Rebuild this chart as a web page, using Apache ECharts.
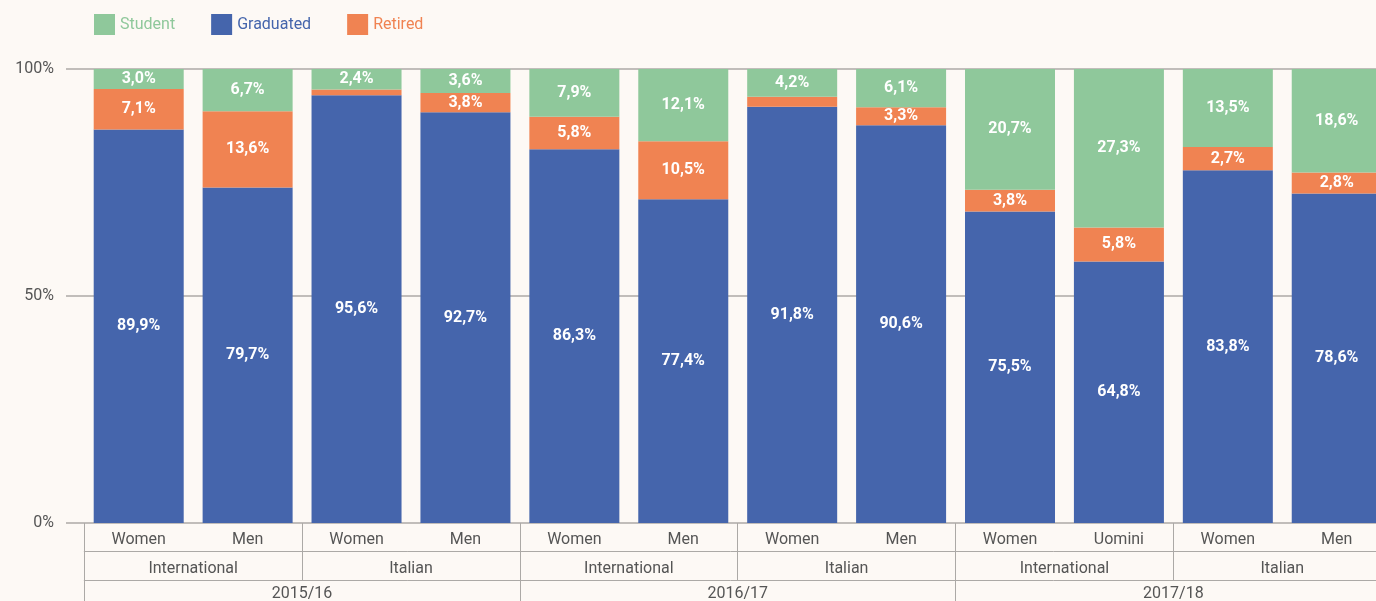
<!DOCTYPE html>
<html>
<head>
<meta charset="utf-8">
<title>Student / Graduated / Retired</title>
<script src="https://cdn.jsdelivr.net/npm/echarts@6/dist/echarts.min.js"></script>
<style>
  html, body {
    margin: 0;
    padding: 0;
    background: #fdf9f5;
  }
  #chart {
    width: 1376px;
    height: 601px;
  }
</style>
</head>
<body>
<div id="chart"></div>
<script>
// categories, three levels
const genders = ["Women", "Men", "Women", "Men", "Women", "Men", "Women", "Men", "Women", "Uomini", "Women", "Men"];
const origins = ["International", "Italian", "International", "Italian", "International", "Italian"];
const years = ["2015/16", "2016/17", "2017/18"];

// segment heights as drawn in the picture (% of bar)
const graduated = [86.7, 73.9, 94.2, 90.5, 82.3, 71.3, 91.7, 87.6, 68.6, 57.6, 77.7, 72.6];
const retired = [8.9, 16.8, 1.3, 4.2, 7.2, 12.8, 2.2, 4.0, 4.8, 7.5, 5.1, 4.6];
const student = [4.4, 9.3, 4.5, 5.3, 10.5, 15.9, 6.1, 8.4, 26.6, 34.9, 17.2, 22.8];

// percentages printed on the bars (null = not printed)
const graduatedLabels = [89.9, 79.7, 95.6, 92.7, 86.3, 77.4, 91.8, 90.6, 75.5, 64.8, 83.8, 78.6];
const retiredLabels = [7.1, 13.6, null, 3.8, 5.8, 10.5, null, 3.3, 3.8, 5.8, 2.7, 2.8];
const studentLabels = [3.0, 6.7, 2.4, 3.6, 7.9, 12.1, 4.2, 6.1, 20.7, 27.3, 13.5, 18.6];

const colors = {
  student: "#8fc89b",
  graduated: "#4565ac",
  retired: "#f08352",
};

const font = "Roboto, sans-serif";
const lineColor = "#aca9a6";
const textColor = "#555";

function pct(v) {
  if (v === null || v === undefined) return "";
  return v.toFixed(1).replace(".", ",") + "%";
}

function labelFrom(list) {
  return {
    show: true,
    position: "inside",
    color: "#fff",
    fontFamily: font,
    fontWeight: "bold",
    fontSize: 16,
    formatter: (p) => pct(list[p.dataIndex]),
  };
}

let chart = echarts.init(document.getElementById("chart"));

let option = {
  backgroundColor: "#fdf9f5",
  animation: false,
  textStyle: { fontFamily: font },
  legend: {
    left: 94,
    top: 14,
    padding: 0,
    itemWidth: 21,
    itemHeight: 21,
    itemGap: 36,
    icon: "rect",
    textStyle: { fontSize: 16, fontFamily: font },
    data: [
      { name: "Student", textStyle: { color: colors.student } },
      { name: "Graduated", textStyle: { color: colors.graduated } },
      { name: "Retired", textStyle: { color: colors.retired } },
    ],
  },
  grid: [
    // bars + category rows
    { left: 84.25, right: -15.2, top: 69, bottom: 78, outerBoundsMode: "none", containLabel: false },
    // y axis with gridlines, a bit wider on the left
    { left: 66, right: -15.2, top: 69, bottom: 78, outerBoundsMode: "none", containLabel: false },
  ],
  xAxis: [
    {
      type: "category",
      gridIndex: 0,
      position: "bottom",
      data: genders,
      axisLine: { show: false },
      axisTick: {
        show: true,
        length: 28,
        interval: (i) => i % 2 === 0,
        lineStyle: { color: lineColor },
      },
      axisLabel: { color: textColor, fontSize: 16, margin: 9, interval: 0, fontFamily: font },
    },
    {
      type: "category",
      gridIndex: 0,
      position: "bottom",
      data: origins,
      offset: 28,
      axisLine: { show: true, lineStyle: { color: lineColor } },
      axisTick: { show: true, length: 29, interval: 0, lineStyle: { color: lineColor } },
      axisLabel: { color: textColor, fontSize: 16, margin: 10, interval: 0, fontFamily: font },
    },
    {
      type: "category",
      gridIndex: 0,
      position: "bottom",
      data: years,
      offset: 57,
      axisLine: { show: true, lineStyle: { color: lineColor } },
      axisTick: { show: true, length: 30, interval: 0, lineStyle: { color: lineColor } },
      axisLabel: { color: textColor, fontSize: 16, margin: 6, interval: 0, fontFamily: font },
    },
    { type: "value", gridIndex: 1, show: false },
  ],
  yAxis: [
    { type: "value", gridIndex: 0, min: 0, max: 100, show: false },
    {
      type: "value",
      gridIndex: 1,
      min: 0,
      max: 100,
      interval: 50,
      axisLine: { show: false },
      axisTick: { show: false },
      axisLabel: {
        color: textColor,
        fontSize: 16,
        margin: 12,
        fontFamily: font,
        formatter: "{value}%",
      },
      splitLine: { show: true, lineStyle: { color: lineColor, width: 1.5 } },
    },
  ],
  series: [
    {
      name: "Graduated",
      type: "bar",
      stack: "total",
      xAxisIndex: 0,
      yAxisIndex: 0,
      barWidth: 90,
      itemStyle: { color: colors.graduated },
      label: labelFrom(graduatedLabels),
      data: graduated,
    },
    {
      name: "Retired",
      type: "bar",
      stack: "total",
      xAxisIndex: 0,
      yAxisIndex: 0,
      barWidth: 90,
      itemStyle: { color: colors.retired },
      label: labelFrom(retiredLabels),
      data: retired,
    },
    {
      name: "Student",
      type: "bar",
      stack: "total",
      xAxisIndex: 0,
      yAxisIndex: 0,
      barWidth: 90,
      itemStyle: { color: colors.student },
      label: labelFrom(studentLabels),
      data: student,
    },
  ],
};

chart.setOption(option);
</script>
</body>
</html>
